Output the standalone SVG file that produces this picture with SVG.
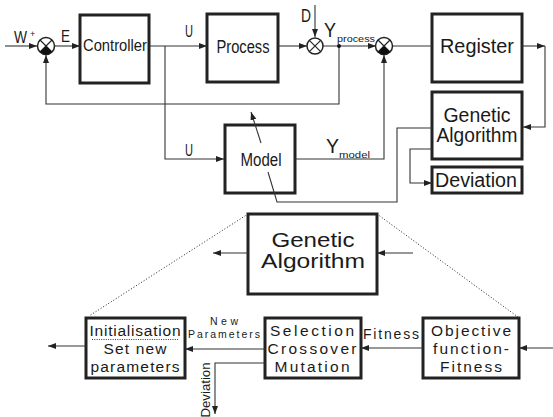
<svg xmlns="http://www.w3.org/2000/svg" width="553" height="417" viewBox="0 0 553 417">
  <style>
    text { font-family: "Liberation Sans", Arial, sans-serif; fill: #1a1a1a; }
    .box { fill: #fff; stroke: #222; stroke-width: 3; }
    .wire { fill: none; stroke: #333; stroke-width: 1.1; }
    .arr { marker-end: url(#ah); }
    .dot { fill: none; stroke: #222; stroke-width: 1; stroke-dasharray: 1 2; }
    .c { text-anchor: middle; }
  </style>
  <defs>
    <marker id="ah" markerUnits="userSpaceOnUse" markerWidth="9" markerHeight="7" refX="8" refY="3" orient="auto">
      <path d="M0,0 L8,3 L0,6 Z" fill="#222"/>
    </marker>
    <!-- summing junction with filled lower wedge -->
    <g id="sumFilled">
      <circle r="8.5" fill="#fff" stroke="#222" stroke-width="1.5"/>
      <path d="M-6,-6 L6,6 M6,-6 L-6,6" stroke="#222" stroke-width="1.2"/>
      <path d="M0,0 L-6,6 A8.5,8.5 0 0 0 6,6 Z" fill="#111"/>
    </g>
    <g id="sumPlain">
      <circle r="8" fill="#fff" stroke="#222" stroke-width="1.5"/>
      <path d="M-5.7,-5.7 L5.7,5.7 M5.7,-5.7 L-5.7,5.7" stroke="#222" stroke-width="1.2"/>
    </g>
  </defs>

  <!-- control loop blocks -->
  <g id="controller">
    <rect class="box" x="80" y="15" width="69" height="68"/>
    <text x="115" y="51" font-size="17" class="c" textLength="64" lengthAdjust="spacingAndGlyphs">Controller</text>
  </g>
  <g id="process">
    <rect class="box" x="207" y="14" width="71" height="68"/>
    <text x="243" y="53" font-size="18" class="c" textLength="53" lengthAdjust="spacingAndGlyphs">Process</text>
  </g>
  <g id="register">
    <rect class="box" x="432" y="14" width="90" height="68"/>
    <text x="477" y="53" font-size="20" class="c" textLength="74" lengthAdjust="spacingAndGlyphs">Register</text>
  </g>
  <g id="genetic-algorithm">
    <rect class="box" x="432" y="92" width="90" height="67" stroke-width="2.5"/>
    <text x="477" y="122" font-size="19.5" class="c" textLength="67" lengthAdjust="spacingAndGlyphs">Genetic</text>
    <text x="477" y="142" font-size="19.5" class="c" textLength="81" lengthAdjust="spacingAndGlyphs">Algorithm</text>
  </g>
  <g id="deviation">
    <rect class="box" x="432" y="167" width="90" height="26"/>
    <text x="476" y="187" font-size="20" class="c" textLength="82" lengthAdjust="spacingAndGlyphs">Deviation</text>
  </g>
  <g id="model">
    <rect class="box" x="225" y="125" width="70" height="68"/>
    <text x="261" y="166" font-size="18" class="c" textLength="41" lengthAdjust="spacingAndGlyphs">Model</text>
  </g>

  <!-- genetic algorithm detail -->
  <g id="ga-detail">
    <rect class="box" x="248" y="214" width="129" height="80"/>
    <text x="313" y="247" font-size="20" class="c" textLength="83" lengthAdjust="spacingAndGlyphs">Genetic</text>
    <text x="313" y="268" font-size="20" class="c" textLength="104" lengthAdjust="spacingAndGlyphs">Algorithm</text>
  </g>
  <g id="initialisation">
    <rect class="box" x="86" y="318" width="99" height="60"/>
    <text x="135" y="336" font-size="15.5" class="c" textLength="91">Initialisation</text>
    <path d="M92,339.5 H179" stroke="#222" stroke-width="0.9" stroke-dasharray="1 1.3"/>
    <text x="135" y="354" font-size="15.5" class="c" textLength="63">Set new</text>
    <text x="135" y="372" font-size="15.5" class="c" textLength="89">parameters</text>
  </g>
  <g id="selection">
    <rect class="box" x="265" y="318" width="96" height="60"/>
    <text x="312" y="336" font-size="15.5" class="c" textLength="84">Selection</text>
    <text x="312" y="354" font-size="15.5" class="c" textLength="89">Crossover</text>
    <text x="312" y="372" font-size="15.5" class="c" textLength="75">Mutation</text>
  </g>
  <g id="objective">
    <rect class="box" x="423" y="318" width="96" height="60"/>
    <text x="471" y="336" font-size="15.5" class="c" textLength="80">Objective</text>
    <text x="471" y="354" font-size="15.5" class="c" textLength="76">function-</text>
    <text x="471" y="372" font-size="15.5" class="c" textLength="62">Fitness</text>
  </g>

  <!-- connectors (drawn over the blocks so the tuning line crosses the model) -->
  <g id="connectors">
    <path class="wire arr" d="M5,46 H37"/>
    <path class="wire arr" d="M55,46 H80"/>
    <path class="wire arr" d="M149,46 H207"/>
    <path class="wire arr" d="M278,46 H307"/>
    <path class="wire arr" d="M315,5 V37"/>
    <path class="wire arr" d="M323,46 H376"/>
    <path class="wire" d="M392,46 H432"/>
    <path class="wire arr" d="M522,46 H545"/>
    <path class="wire arr" d="M545,46 V127 H523"/>
    <path class="wire arr" d="M339,46 V104 H46 V55"/>
    <path class="wire arr" d="M165,46 V159 H224"/>
    <path class="wire arr" d="M295,159 H384 V55"/>
    <path class="wire" d="M432,128 H397 V202 H277 L268,172"/>
    <path class="wire arr" d="M261,143 L251,112"/>
    <path class="wire arr" d="M432,149 H410 V183 H432"/>
    <circle cx="339" cy="46" r="2" fill="#111"/>

    <!-- detail section -->
    <path class="dot" d="M248,214 L89,316"/>
    <path class="dot" d="M377,214 L518,317"/>
    <path class="wire arr" d="M413,253 H377"/>
    <path class="wire arr" d="M248,253 H213"/>
    <path class="wire arr" d="M553,348 H519"/>
    <path class="wire arr" d="M423,348 H361"/>
    <path class="wire arr" d="M265,349 H185"/>
    <path class="wire arr" d="M86,346 H48"/>
    <path class="wire arr" d="M265,363 H215 V414"/>
  </g>

  <!-- summing junctions -->
  <g id="sum-error"><use href="#sumFilled" x="46" y="46"/></g>
  <g id="sum-disturbance"><use href="#sumPlain" x="315" y="46"/></g>
  <g id="sum-compare"><use href="#sumFilled" x="384" y="46"/></g>

  <!-- signal labels -->
  <g id="labels">
    <text x="14" y="43" font-size="17" textLength="13" lengthAdjust="spacingAndGlyphs">W</text>
    <text x="30" y="37" font-size="9">+</text>
    <text x="61" y="42" font-size="17" textLength="9" lengthAdjust="spacingAndGlyphs">E</text>
    <text x="185" y="37" font-size="16" textLength="8" lengthAdjust="spacingAndGlyphs">U</text>
    <text x="185" y="156" font-size="16" textLength="8" lengthAdjust="spacingAndGlyphs">U</text>
    <text x="301" y="22" font-size="19" textLength="10" lengthAdjust="spacingAndGlyphs">D</text>
    <text x="324" y="37" font-size="20" textLength="12" lengthAdjust="spacingAndGlyphs">Y</text>
    <text x="337" y="42" font-size="9.5" textLength="38" lengthAdjust="spacingAndGlyphs">process</text>
    <text x="326" y="153" font-size="20" textLength="13" lengthAdjust="spacingAndGlyphs">Y</text>
    <text x="339" y="158" font-size="9.5" textLength="31" lengthAdjust="spacingAndGlyphs">model</text>
    <text x="224" y="325" font-size="10.5" class="c" textLength="28">New</text>
    <text x="224" y="338" font-size="10.5" class="c" textLength="72">Parameters</text>
    <text x="391" y="339" font-size="14" class="c" textLength="56">Fitness</text>
    <text transform="translate(210,390) rotate(-90)" font-size="13.5" class="c" textLength="55" lengthAdjust="spacingAndGlyphs">Deviation</text>
  </g>
</svg>
